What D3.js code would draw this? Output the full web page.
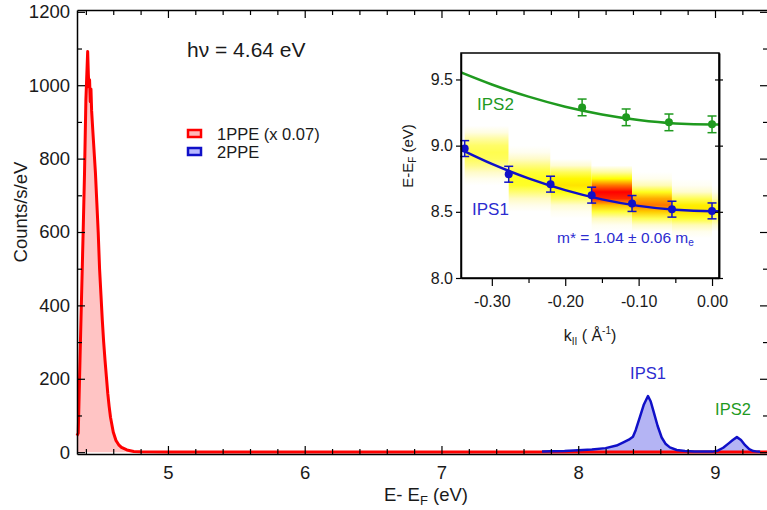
<!DOCTYPE html>
<html>
<head>
<meta charset="utf-8">
<script src="https://cdn.jsdelivr.net/npm/d3@7"></script>
<style>
body { margin: 0; background: #fff; }
svg { font-family: "Liberation Sans", Arial, Helvetica, sans-serif; }
</style>
</head>
<body>
<svg id="chart" width="767" height="510"></svg>
<script>
// 1PPE spectrum (already scaled x 0.07)
const ppe1Energy = [4.335, 4.344, 4.36, 4.38, 4.39, 4.40, 4.405, 4.413, 4.418, 4.422, 4.427, 4.432, 4.437, 4.442, 4.45,
                    4.47, 4.48, 4.49, 4.50, 4.51, 4.52, 4.53, 4.54, 4.55, 4.56, 4.57, 4.58, 4.60, 4.62, 4.64, 4.66,
                    4.70, 4.75, 4.80, 5.0, 6.0, 7.0, 8.0, 9.0, 9.39];
const ppe1Counts = [45, 52, 300, 600, 760, 960, 1010, 1092, 1030, 995, 1015, 955, 990, 930, 880,
                    760, 680, 600, 500, 430, 360, 300, 250, 205, 160, 125, 95, 55, 32, 20, 13,
                    6, 2, 1, 0.5, 0.5, 0.5, 0.5, 0.5, 0.5];
// 2PPE spectrum
const ppe2Energy = [7.735, 7.80, 7.90, 8.00, 8.10, 8.20, 8.28, 8.33, 8.37, 8.40, 8.42, 8.45, 8.48, 8.51, 8.53, 8.55,
                    8.58, 8.61, 8.64, 8.67, 8.72, 8.78, 8.85, 8.92, 8.98, 9.02, 9.06, 9.10, 9.13, 9.16, 9.19, 9.22,
                    9.25, 9.28, 9.31, 9.33];
const ppe2Counts = [2, 2.5, 3, 5, 7, 11, 18, 27, 34, 42, 60, 95, 130, 153, 138, 112,
                    72, 40, 22, 13, 6, 3, 2, 1.5, 1.5, 4, 12, 24, 33, 41, 33, 19,
                    8, 3, 1.5, 1];
const xTicks = [5, 6, 7, 8, 9];
const yTicks = [0, 200, 400, 600, 800, 1000, 1200];

// inset: dispersion
const ips1K = [-0.337, -0.277, -0.220, -0.164, -0.109, -0.0546, 0];
const ips1E = [8.978, 8.784, 8.709, 8.626, 8.563, 8.520, 8.507];
const ips1Err = [0.06, 0.06, 0.06, 0.06, 0.06, 0.06, 0.06];
const ips2K = [-0.177, -0.117, -0.0587, 0];
const ips2E = [9.289, 9.214, 9.176, 9.161];
const ips2Err = [0.063, 0.063, 0.063, 0.063];
const fitK = [-0.342, -0.30, -0.25, -0.20, -0.15, -0.10, -0.05, 0, 0.0095];
const ips1Fit = [8.970, 8.862, 8.753, 8.664, 8.594, 8.545, 8.515, 8.505, 8.505];
const ips2Fit = [9.553, 9.462, 9.370, 9.294, 9.236, 9.194, 9.168, 9.160, 9.160];
const insetXTicks = [-0.3, -0.2, -0.1, 0];
const insetYTicks = [8.0, 8.5, 9.0, 9.5];

// intensity map behind the IPS1 points (one column per k, rows = energy)
const mapEnergy = [9.15, 9.10, 9.05, 9.00, 8.95, 8.90, 8.85, 8.80, 8.75, 8.70, 8.65, 8.60, 8.55, 8.50, 8.45, 8.40, 8.35, 8.30];
const mapIntensity = [
  [0, 0.08, 0.22, 0.32, 0.36, 0.34, 0.26, 0.15, 0.05, 0, 0, 0, 0, 0, 0, 0, 0, 0],
  [0, 0, 0, 0, 0.04, 0.15, 0.28, 0.4, 0.45, 0.43, 0.3, 0.16, 0.06, 0, 0, 0, 0, 0],
  [0, 0, 0, 0, 0, 0, 0.12, 0.34, 0.52, 0.58, 0.48, 0.32, 0.13, 0.04, 0, 0, 0, 0],
  [0, 0, 0, 0, 0, 0, 0, 0.22, 0.5, 0.85, 1, 0.95, 0.68, 0.4, 0.17, 0.04, 0, 0],
  [0, 0, 0, 0, 0, 0, 0, 0, 0.05, 0.18, 0.45, 0.75, 0.85, 0.65, 0.36, 0.13, 0, 0],
  [0, 0, 0, 0, 0, 0, 0, 0, 0, 0.03, 0.13, 0.35, 0.55, 0.58, 0.42, 0.18, 0.05, 0],
  [0, 0, 0, 0, 0, 0, 0, 0, 0, 0, 0.04, 0.18, 0.4, 0.45, 0.3, 0.12, 0, 0]
];
const mapColWidth = 0.055;

const red = "#ff0000", blue = "#1010c8", green = "#1f9a1f";

const svg = d3.select("#chart");
const x = d3.scaleLinear().domain([4.335, 9.3875]).range([77, 768]);
const y = d3.scaleLinear().domain([-5, 1205]).range([454, 10]);

function styleAxis(g, size) {
    g.attr("font-family", null).attr("font-size", size);
    g.select(".domain").attr("stroke", "#000").attr("stroke-width", 1.5);
    g.selectAll(".tick line").attr("stroke", "#000").attr("stroke-width", 1.2);
    g.selectAll(".tick text").attr("fill", "#1a1a1a");
}

// ---- main spectrum ----
const ppe1 = ppe1Energy.map((e, i) => ({e: e, c: ppe1Counts[i]}));
const ppe2 = ppe2Energy.map((e, i) => ({e: e, c: ppe2Counts[i]}));
const area = d3.area().x(d => x(d.e)).y0(y(0)).y1(d => y(d.c));
const line = d3.line().x(d => x(d.e)).y(d => y(d.c));

svg.append("path").datum(ppe1).attr("d", area).attr("fill", "#ffc4c4");
svg.append("path").datum(ppe2).attr("d", area).attr("fill", "#b4b4f4");
svg.append("path").datum(ppe1).attr("d", line).attr("fill", "none")
    .attr("stroke", red).attr("stroke-width", 3).attr("stroke-linejoin", "round");
svg.append("path").datum(ppe2).attr("d", line).attr("fill", "none")
    .attr("stroke", blue).attr("stroke-width", 2.5).attr("stroke-linejoin", "round");

const xMinor = d3.range(22, 47).filter(i => i % 5 !== 0).map(i => i / 5);
const yMinor = d3.range(100, 1200, 200);
const intFmt = d3.format("d");
const mainFont = 18.5;

svg.append("g").attr("transform", `translate(0,${y.range()[0]})`)
    .call(d3.axisBottom(x).tickValues(xMinor).tickSize(-5).tickSizeOuter(0).tickFormat(""))
    .call(g => g.select(".domain").remove()).call(g => styleAxis(g, mainFont));
svg.append("g").attr("transform", `translate(0,${y.range()[0]})`)
    .call(d3.axisBottom(x).tickValues(xTicks).tickSize(-8).tickSizeOuter(0).tickPadding(12).tickFormat(intFmt))
    .call(g => styleAxis(g, mainFont));
svg.append("g").attr("transform", `translate(0,${y.range()[1]})`)
    .call(d3.axisTop(x).tickValues(xMinor).tickSize(-5).tickSizeOuter(0).tickFormat(""))
    .call(g => g.select(".domain").remove()).call(g => styleAxis(g, mainFont));
svg.append("g").attr("transform", `translate(0,${y.range()[1]})`)
    .call(d3.axisTop(x).tickValues(xTicks).tickSize(-8).tickSizeOuter(0).tickFormat(""))
    .call(g => styleAxis(g, mainFont));

svg.append("g").attr("transform", `translate(${x.range()[0]},0)`)
    .call(d3.axisLeft(y).tickValues(yMinor).tickSize(-5).tickSizeOuter(0).tickFormat(""))
    .call(g => g.select(".domain").remove()).call(g => styleAxis(g, mainFont));
svg.append("g").attr("transform", `translate(${x.range()[0]},0)`)
    .call(d3.axisLeft(y).tickValues(yTicks).tickSize(-8).tickSizeOuter(0).tickPadding(7).tickFormat(intFmt))
    .call(g => styleAxis(g, mainFont));
svg.append("g").attr("transform", `translate(${x.range()[1]},0)`)
    .call(d3.axisRight(y).tickValues(yMinor).tickSize(-5).tickSizeOuter(0).tickFormat(""))
    .call(g => g.select(".domain").remove()).call(g => styleAxis(g, mainFont));
svg.append("g").attr("transform", `translate(${x.range()[1]},0)`)
    .call(d3.axisRight(y).tickValues(yTicks).tickSize(-8).tickSizeOuter(0).tickFormat(""))
    .call(g => styleAxis(g, mainFont));

// axis titles
const xTitle = svg.append("text").attr("x", 426).attr("y", 501).attr("text-anchor", "middle")
    .attr("font-size", mainFont).attr("fill", "#1a1a1a");
xTitle.append("tspan").text("E- E");
xTitle.append("tspan").attr("font-size", 13).attr("dy", 4).text("F");
xTitle.append("tspan").attr("dy", -4).text(" (eV)");

svg.append("text").attr("transform", "translate(27,212) rotate(-90)").attr("text-anchor", "middle")
    .attr("font-size", mainFont).attr("fill", "#1a1a1a").text("Counts/s/eV");

svg.append("text").attr("x", 187).attr("y", 57).attr("font-size", 21).attr("fill", "#1a1a1a")
    .text("hν = 4.64 eV");

// legend
const legend = [{label: "1PPE (x 0.07)", stroke: red, fill: "#ffb8b8"},
                {label: "2PPE", stroke: blue, fill: "#b8b8ff"}];
const lg = svg.append("g").attr("transform", "translate(188,130)");
lg.selectAll("rect").data(legend).enter().append("rect")
    .attr("x", 0).attr("y", (d, i) => i * 18).attr("width", 13).attr("height", 7)
    .attr("fill", d => d.fill).attr("stroke", d => d.stroke).attr("stroke-width", 2.5);
lg.selectAll("text").data(legend).enter().append("text")
    .attr("x", 29).attr("y", (d, i) => i * 18 + 9.5).attr("font-size", 16.5).attr("fill", "#1a1a1a")
    .text(d => d.label);

svg.append("text").attr("x", 648).attr("y", 379).attr("text-anchor", "middle").attr("font-size", 16.5)
    .attr("fill", "#2c2cd0").text("IPS1");
svg.append("text").attr("x", 733).attr("y", 415).attr("text-anchor", "middle").attr("font-size", 16.5)
    .attr("fill", green).text("IPS2");

// ---- inset ----
const kx = d3.scaleLinear().domain([-0.342, 0.0095]).range([461, 719]);
const ky = d3.scaleLinear().domain([8.0, 9.70]).range([278, 53]);

svg.append("rect").attr("x", 395).attr("y", 45).attr("width", 333).attr("height", 305).attr("fill", "#fff");

const defs = svg.append("defs");
defs.append("clipPath").attr("id", "insetClip").append("rect")
    .attr("x", kx.range()[0]).attr("y", ky.range()[1])
    .attr("width", kx.range()[1] - kx.range()[0]).attr("height", ky.range()[0] - ky.range()[1]);

const heat = d3.scaleLinear().domain([0, 0.15, 0.5, 0.8, 1])
    .range(["#ffffff", "#fffbc8", "#ffff00", "#ff9a00", "#ff0000"]);

mapIntensity.forEach((col, j) => {
    const grad = defs.append("linearGradient").attr("id", "col" + j)
        .attr("gradientUnits", "userSpaceOnUse")
        .attr("x1", 0).attr("x2", 0)
        .attr("y1", ky(mapEnergy[0])).attr("y2", ky(mapEnergy[mapEnergy.length - 1]));
    col.forEach((v, i) => {
        grad.append("stop").attr("offset", i / (col.length - 1)).attr("stop-color", heat(v));
    });
});

const mapG = svg.append("g").attr("clip-path", "url(#insetClip)");
mapG.selectAll("rect").data(mapIntensity).enter().append("rect")
    .attr("x", (d, j) => kx(ips1K[j]))
    .attr("width", (d, j) => kx(j < ips1K.length - 1 ? ips1K[j + 1] : ips1K[j] + mapColWidth) - kx(ips1K[j]))
    .attr("y", ky(mapEnergy[0]))
    .attr("height", ky(mapEnergy[mapEnergy.length - 1]) - ky(mapEnergy[0]))
    .attr("fill", (d, j) => `url(#col${j})`);

const fitLine = d3.line().curve(d3.curveMonotoneX).x(d => kx(d.k)).y(d => ky(d.e));
const inG = svg.append("g").attr("clip-path", "url(#insetClip)");
inG.append("path").datum(fitK.map((k, i) => ({k: k, e: ips2Fit[i]}))).attr("d", fitLine)
    .attr("fill", "none").attr("stroke", green).attr("stroke-width", 2.5);
inG.append("path").datum(fitK.map((k, i) => ({k: k, e: ips1Fit[i]}))).attr("d", fitLine)
    .attr("fill", "none").attr("stroke", blue).attr("stroke-width", 2.5);

function drawPoints(ks, es, errs, color) {
    const pts = ks.map((k, i) => ({k: k, e: es[i], err: errs[i]}));
    const g = svg.append("g").attr("stroke", color).attr("stroke-width", 1.5);
    g.selectAll(".bar").data(pts).enter().append("line")
        .attr("x1", d => kx(d.k)).attr("x2", d => kx(d.k))
        .attr("y1", d => ky(d.e - d.err)).attr("y2", d => ky(d.e + d.err));
    g.selectAll(".capT").data(pts).enter().append("line")
        .attr("x1", d => kx(d.k) - 4.5).attr("x2", d => kx(d.k) + 4.5)
        .attr("y1", d => ky(d.e + d.err)).attr("y2", d => ky(d.e + d.err));
    g.selectAll(".capB").data(pts).enter().append("line")
        .attr("x1", d => kx(d.k) - 4.5).attr("x2", d => kx(d.k) + 4.5)
        .attr("y1", d => ky(d.e - d.err)).attr("y2", d => ky(d.e - d.err));
    g.selectAll("circle").data(pts).enter().append("circle")
        .attr("cx", d => kx(d.k)).attr("cy", d => ky(d.e)).attr("r", 4)
        .attr("fill", color).attr("stroke", "none");
}
drawPoints(ips2K, ips2E, ips2Err, green);
drawPoints(ips1K, ips1E, ips1Err, blue);

// inset frame and axes
svg.append("rect").attr("x", kx.range()[0]).attr("y", ky.range()[1])
    .attr("width", kx.range()[1] - kx.range()[0]).attr("height", ky.range()[0] - ky.range()[1])
    .attr("fill", "none").attr("stroke", "#000").attr("stroke-width", 1.5);

const insetFont = 16;
const insetFmt = d => d === 0 ? "0.00" : d.toFixed(2);
svg.append("g").attr("transform", `translate(0,${ky.range()[0]})`)
    .call(d3.axisBottom(kx).tickValues([-0.25, -0.15, -0.05]).tickSize(5).tickSizeOuter(0).tickFormat(""))
    .call(g => g.select(".domain").remove()).call(g => styleAxis(g, insetFont));
svg.append("g").attr("transform", `translate(0,${ky.range()[0]})`)
    .call(d3.axisBottom(kx).tickValues(insetXTicks).tickSize(8).tickSizeOuter(0).tickPadding(10).tickFormat(insetFmt))
    .call(g => styleAxis(g, insetFont));
svg.append("g").attr("transform", `translate(${kx.range()[0]},0)`)
    .call(d3.axisLeft(ky).tickValues(insetYTicks).tickSize(5).tickSizeOuter(0).tickPadding(3).tickFormat(d3.format(".1f")))
    .call(g => styleAxis(g, insetFont));
svg.append("g").attr("transform", `translate(${kx.range()[1]},0)`)
    .call(d3.axisRight(ky).tickValues(insetYTicks).tickSize(4).tickSizeOuter(0).tickFormat(""))
    .call(g => styleAxis(g, insetFont));
svg.append("g").attr("transform", `translate(${kx.range()[1]},0)`)
    .call(d3.axisLeft(ky).tickValues(insetYTicks).tickSize(4).tickSizeOuter(0).tickFormat(""))
    .call(g => styleAxis(g, insetFont));

const kTitle = svg.append("text").attr("x", 590).attr("y", 341).attr("text-anchor", "middle")
    .attr("font-size", 16).attr("fill", "#1a1a1a");
kTitle.append("tspan").text("k");
kTitle.append("tspan").attr("font-size", 10).attr("dy", 4).text("II");
kTitle.append("tspan").attr("dy", -4).text(" ( Å");
kTitle.append("tspan").attr("font-size", 10).attr("dy", -7).text("-1");
kTitle.append("tspan").attr("dy", 7).text(")");

const eTitle = svg.append("text").attr("transform", "translate(413,156) rotate(-90)").attr("text-anchor", "middle")
    .attr("font-size", 15).attr("fill", "#1a1a1a");
eTitle.append("tspan").text("E-E");
eTitle.append("tspan").attr("font-size", 10).attr("dy", 3).text("F");
eTitle.append("tspan").attr("dy", -3).text(" (eV)");

svg.append("text").attr("x", 477).attr("y", 110).attr("font-size", 17).attr("fill", green).text("IPS2");
svg.append("text").attr("x", 472).attr("y", 215).attr("font-size", 17).attr("fill", "#2c2cd0").text("IPS1");
const mText = svg.append("text").attr("x", 557).attr("y", 243).attr("font-size", 15.5).attr("fill", "#2c2cd0");
mText.append("tspan").text("m* = 1.04 ± 0.06 m");
mText.append("tspan").attr("font-size", 10).attr("dy", 3).text("e");
</script>
</body>
</html>
